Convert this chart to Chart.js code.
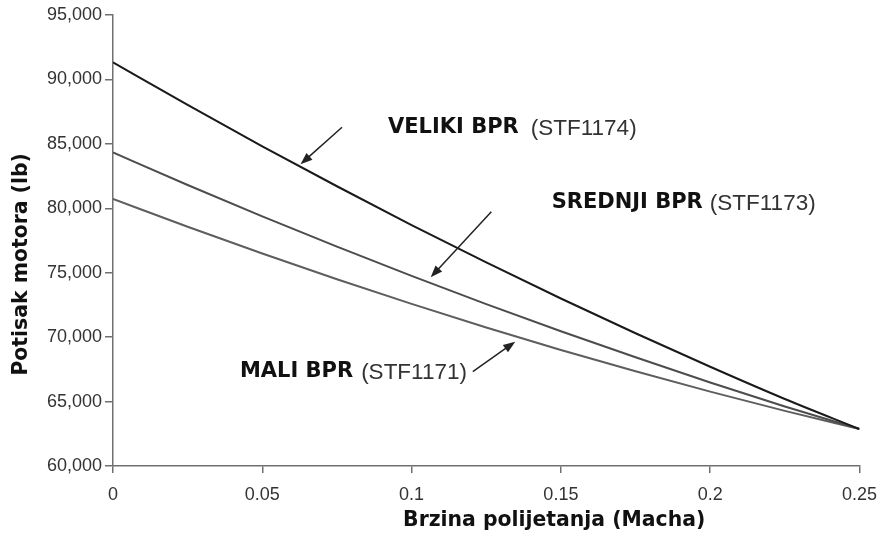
<!DOCTYPE html>
<html>
<head>
<meta charset="utf-8">
<script src="https://cdn.jsdelivr.net/npm/chart.js@4.4.1/dist/chart.umd.min.js"></script>
<style>
  html, body { margin: 0; padding: 0; background: #fff; }
  canvas { display: block; }
</style>
</head>
<body>
<canvas id="thrust" width="888" height="539"></canvas>
<script>
// Mach number samples
const machValues = [0, 0.025, 0.05, 0.075, 0.1, 0.125, 0.15, 0.175, 0.2, 0.225, 0.25];

// Take-off thrust (lb) per engine
const velikiThrust = [91330, 88020, 84810, 81710, 78700, 75800, 73000, 70300, 67700, 65200, 62870];
const srednjiThrust = [84330, 81810, 79370, 77020, 74750, 72560, 70460, 68440, 66480, 64620, 62870];
const maliThrust = [80730, 78570, 76490, 74490, 72580, 70750, 69000, 67350, 65770, 64280, 62870];

const xTickLabels = ['0', '0.05', '0.1', '0.15', '0.2', '0.25'];

const xTitle = 'Brzina polijetanja (Macha)';
const yTitle = 'Potisak motora (lb)';

// Engine labels with their arrows, in axis units
const engineNotes = [
  { name: 'VELIKI BPR', code: '(STF1174)', at: [0.0921, 86230], gap: 12, tail: [0.0767, 86285], tip: [0.0628, 83414] },
  { name: 'SREDNJI BPR', code: '(STF1173)', at: [0.1469, 80410], gap: 7, tail: [0.1267, 79735], tip: [0.1064, 74645] },
  { name: 'MALI BPR', code: '(STF1171)', at: [0.0425, 67320], gap: 8, tail: [0.1205, 67320], tip: [0.1347, 69647] }
];

const toPoints = ys => ys.map((y, i) => ({ x: machValues[i], y }));

const notesPlugin = {
  id: 'engineNotes',
  afterDatasetsDraw(chart) {
    const { ctx, chartArea: area, scales: { x, y } } = chart;
    ctx.save();
    engineNotes.forEach(n => {
      const tx = x.getPixelForValue(n.at[0]);
      const ty = y.getPixelForValue(n.at[1]);
      ctx.textBaseline = 'middle';
      ctx.textAlign = 'left';
      ctx.fillStyle = '#111';
      ctx.font = 'bold 21px "DejaVu Sans"';
      ctx.fillText(n.name, tx, ty);
      const w = ctx.measureText(n.name).width;
      ctx.fillStyle = '#333';
      ctx.font = '22.5px "Liberation Sans"';
      ctx.fillText(n.code, tx + w + n.gap, ty + 1);

      // arrow
      const x0 = x.getPixelForValue(n.tail[0]);
      const y0 = y.getPixelForValue(n.tail[1]);
      const x1 = x.getPixelForValue(n.tip[0]);
      const y1 = y.getPixelForValue(n.tip[1]);
      const ang = Math.atan2(y1 - y0, x1 - x0);
      const len = 12, half = 4.5;
      ctx.strokeStyle = '#222';
      ctx.fillStyle = '#222';
      ctx.lineWidth = 1.5;
      ctx.beginPath();
      ctx.moveTo(x0, y0);
      ctx.lineTo(x1 - Math.cos(ang) * len * 0.8, y1 - Math.sin(ang) * len * 0.8);
      ctx.stroke();
      ctx.beginPath();
      ctx.moveTo(x1, y1);
      ctx.lineTo(x1 - Math.cos(ang) * len - Math.sin(ang) * half, y1 - Math.sin(ang) * len + Math.cos(ang) * half);
      ctx.lineTo(x1 - Math.cos(ang) * len + Math.sin(ang) * half, y1 - Math.sin(ang) * len - Math.cos(ang) * half);
      ctx.closePath();
      ctx.fill();
    });

    // axis titles sit off-centre, so they are drawn here
    ctx.fillStyle = '#111';
    ctx.font = 'bold 20.4px "DejaVu Sans"';
    ctx.textAlign = 'center';
    ctx.textBaseline = 'middle';
    ctx.fillText(xTitle, area.left + area.width * 0.591, 521);
    ctx.translate(22, area.top + area.height * 0.553);
    ctx.rotate(-Math.PI / 2);
    ctx.fillText(yTitle, 0, 0);
    ctx.restore();
  }
};

new Chart('thrust', {
  type: 'line',
  data: {
    datasets: [
      { label: 'VELIKI BPR', data: toPoints(velikiThrust), borderColor: '#1a1a1a', borderWidth: 2 },
      { label: 'SREDNJI BPR', data: toPoints(srednjiThrust), borderColor: '#4d4d4d', borderWidth: 2 },
      { label: 'MALI BPR', data: toPoints(maliThrust), borderColor: '#5e5e5e', borderWidth: 2 }
    ]
  },
  options: {
    responsive: false,
    devicePixelRatio: 1,
    animation: false,
    cubicInterpolationMode: 'monotone',
    elements: { point: { radius: 0 } },
    layout: { padding: { left: 0, right: 26, top: 15, bottom: 0 } },
    plugins: { legend: { display: false }, tooltip: { enabled: false } },
    scales: {
      x: {
        type: 'linear',
        min: 0,
        max: 0.25,
        afterFit(axis) { axis.height = 73; },
        border: { color: '#707070', width: 1.5 },
        grid: { drawOnChartArea: false, tickLength: 7, color: '#707070', lineWidth: 1.5 },
        ticks: {
          stepSize: 0.05,
          padding: 11,
          color: '#333',
          font: { family: 'Liberation Sans', size: 18 },
          callback: (v, i) => xTickLabels[i]
        }
      },
      y: {
        min: 60000,
        max: 95000,
        afterFit(axis) { axis.width = 113; },
        border: { color: '#707070', width: 1.5 },
        grid: { drawOnChartArea: false, tickLength: 8, color: '#707070', lineWidth: 1.5 },
        ticks: {
          stepSize: 5000,
          padding: 3,
          color: '#333',
          font: { family: 'Liberation Sans', size: 18 },
          callback: v => v.toLocaleString('en-US')
        }
      }
    }
  },
  plugins: [notesPlugin]
});
</script>
</body>
</html>
